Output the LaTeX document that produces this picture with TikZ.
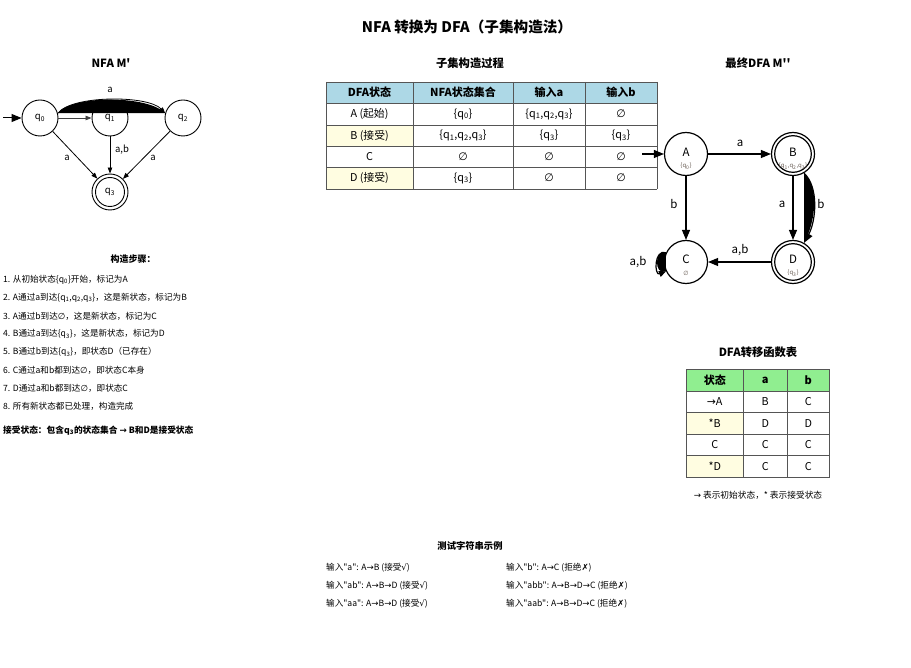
\documentclass[tikz,border=0pt]{standalone}
\usepackage{fontspec}
\setmainfont{Noto Sans CJK SC}[Ligatures=TeXOff]
\newfontfamily\symf{DejaVu Sans}
\usetikzlibrary{arrows.meta}
\newcommand{\qsb}[1]{q\textsubscript{#1}}
\newcommand{\emp}{{\symf ∅}}
\definecolor{hblue}{HTML}{ADD8E6}
\definecolor{hgreen}{HTML}{90EE90}
\definecolor{ryel}{HTML}{FFFDE1}
\definecolor{bordg}{HTML}{555555}
\definecolor{subgray}{HTML}{6A5E55}
\tikzset{
  txt/.style={inner sep=0pt, anchor=west, font=\fontsize{8.6}{10}\selectfont},
  ttl/.style={inner sep=0pt, font=\fontsize{11.3}{13}\selectfont\bfseries},
  cell/.style={inner sep=0pt, font=\fontsize{10.8}{12}\selectfont},
  hcell/.style={inner sep=0pt, font=\fontsize{11}{12}\selectfont\bfseries},
  nstate/.style={circle, draw, line width=0.9pt, minimum size=36pt, inner sep=0pt, font=\fontsize{9.5}{10}\selectfont},
  dstate/.style={circle, draw, line width=1.2pt, minimum size=43pt, inner sep=0pt},
  nedge/.style={-{Triangle[length=6pt,width=4.5pt]}, line width=0.8pt},
  dedge/.style={-{Triangle[length=10pt,width=8pt]}, line width=1.2pt},
  elab/.style={inner sep=0pt, font=\fontsize{9.5}{10}\selectfont},
  dlab/.style={inner sep=0pt, font=\fontsize{11.5}{12}\selectfont},
  sublab/.style={inner sep=0pt, font=\fontsize{6}{7}\selectfont, text=subgray},
  grid/.style={draw=bordg, line width=0.9pt},
}
\begin{document}
\begin{tikzpicture}[x=1pt,y=-1pt]
\useasboundingbox (0,0) rectangle (911,668);
\fill[white] (0,0) rectangle (911,668);

% main title
\node[inner sep=0pt, font=\fontsize{14.6}{16}\selectfont\bfseries] (title) at (467,27) {NFA 转换为 DFA（子集构造法）};

% ---------------- NFA ----------------
\node[ttl] (nfat) at (111,63) {NFA M'};
\node[nstate] (q0) at (40,118) {\qsb{0}};
\node[nstate] (q1) at (110,118) {\qsb{1}};
\node[nstate] (q2) at (183,118) {\qsb{2}};
\node[nstate] (q3) at (110,192) {\qsb{3}};
\draw[line width=0.9pt] (q3.center) circle[radius=14.5];
\coordinate (nstart) at (3,118);
\draw[-{Triangle[length=10pt,width=8pt]}, line width=1pt] (nstart) -- (q0.west);
\draw[nedge, draw=black!75] (q0.east) -- (q1.west);
\fill (q0.15) .. controls (72,95) and (148,95) .. (q2.165) -- cycle;
\draw[nedge] (q0.15) .. controls (72,95) and (148,95) .. (q2.165);
\draw[nedge] (q0) -- (q3);
\draw[nedge] (q1) -- (q3);
\draw[nedge] (q2) -- (q3);
\node[elab] (l1) at (110,90) {a};
\node[elab] (l2) at (67,158) {a};
\node[elab] (l3) at (122,150) {a,b};
\node[elab] (l4) at (153,158) {a};

% ---------------- Subset table ----------------
\node[ttl] (subt) at (470,63) {子集构造过程};
\fill[hblue] (326,82) rectangle (657,103);
\fill[ryel] (326,125) rectangle (413,146.5);
\fill[ryel] (326,167.5) rectangle (413,189);
\foreach \yy in {82,103,125,146.5,167.5,189} \draw[grid] (326,\yy) -- (657,\yy);
\foreach \xx in {326,413,513,585,657} \draw[grid] (\xx,82) -- (\xx,189);
\node[hcell] (h1) at (369.5,92.5) {DFA状态};
\node[hcell] (h2) at (463,92.5) {NFA状态集合};
\node[hcell] (h3) at (549,92.5) {输入a};
\node[hcell] (h4) at (621,92.5) {输入b};
\node[cell] (r11) at (369.5,114) {A (起始)};
\node[cell] (r12) at (463,114) {\{\qsb{0}\}};
\node[cell] (r13) at (549,114) {\{\qsb{1},\qsb{2},\qsb{3}\}};
\node[cell] (r14) at (621,114) {\emp};
\node[cell] (r21) at (369.5,135.75) {B (接受)};
\node[cell] (r22) at (463,135.75) {\{\qsb{1},\qsb{2},\qsb{3}\}};
\node[cell] (r23) at (549,135.75) {\{\qsb{3}\}};
\node[cell] (r24) at (621,135.75) {\{\qsb{3}\}};
\node[cell] (r31) at (369.5,157) {C};
\node[cell] (r32) at (463,157) {\emp};
\node[cell] (r33) at (549,157) {\emp};
\node[cell] (r34) at (621,157) {\emp};
\node[cell] (r41) at (369.5,178) {D (接受)};
\node[cell] (r42) at (463,178) {\{\qsb{3}\}};
\node[cell] (r43) at (549,178) {\emp};
\node[cell] (r44) at (621,178) {\emp};

% ---------------- DFA ----------------
\node[ttl] (dfat) at (758,63) {最终DFA M''};
\node[dstate] (A) at (686,154) {};
\node[dstate] (B) at (793,154) {};
\node[dstate] (C) at (686,262) {};
\node[dstate] (D) at (793,262) {};
\draw[line width=1.2pt] (B.center) circle[radius=18.3];
\draw[line width=1.2pt] (D.center) circle[radius=18.3];
\node[dlab] (Al) at (686,152) {A};
\node[sublab] (As) at (686,166) {\{\qsb{0}\}};
\node[dlab] (Bl) at (793,152) {B};
\node[sublab] (Bs) at (793,166) {\{\qsb{1},\qsb{2},\qsb{3}\}};
\node[dlab] (Cl) at (686,259) {C};
\node[sublab] (Cs) at (686,273) {\emp};
\node[dlab] (Dl) at (793,259) {D};
\node[sublab] (Ds) at (793,273) {\{\qsb{3}\}};
\coordinate (dstart) at (642,154);
\draw[dedge] (dstart) -- (A.west);
\draw[dedge] (A) -- (B);
\draw[dedge] (A) -- (C);
\draw[dedge] (B) -- (D);
\draw[dedge] (D) -- (C);
\fill (B.-60) .. controls +(15,14) and +(12,-22) .. (D.60) -- cycle;
\draw[dedge] (B.-60) .. controls +(15,14) and +(12,-22) .. (D.60);
\fill (C.155) .. controls +(-12,-4) and +(-12,5) .. (C.205) -- cycle;
\draw[-{Triangle[length=7pt,width=6pt]}, line width=1.2pt] (C.155) .. controls +(-12,-4) and +(-12,5) .. (C.205);
\node[dlab] (ab1) at (740,143) {a};
\node[dlab] (ab2) at (674,204) {b};
\node[dlab] (ab3) at (782,204) {a};
\node[dlab] (ab4) at (821,204) {b};
\node[dlab] (ab5) at (740,250) {a,b};
\node[dlab] (ab6) at (638,262) {a,b};

% ---------------- DFA table ----------------
\node[ttl] (tt) at (758,352) {DFA转移函数表};
\fill[hgreen] (686,369.5) rectangle (829.5,391);
\fill[ryel] (686,412.5) rectangle (743.5,434);
\fill[ryel] (686,455.5) rectangle (743.5,477);
\foreach \yy in {369.5,391,412.5,434,455.5,477} \draw[grid] (686,\yy) -- (829.5,\yy);
\foreach \xx in {686,743.5,787,829.5} \draw[grid] (\xx,369.5) -- (\xx,477);
\node[hcell] (t01) at (714.75,380.25) {状态};
\node[hcell] (t02) at (765.25,380.25) {a};
\node[hcell] (t03) at (808.25,380.25) {b};
\node[cell] (t11) at (714.75,401.75) {{\symf →}A};
\node[cell] (t12) at (765.25,401.75) {B};
\node[cell] (t13) at (808.25,401.75) {C};
\node[cell] (t21) at (714.75,423.25) {*B};
\node[cell] (t22) at (765.25,423.25) {D};
\node[cell] (t23) at (808.25,423.25) {D};
\node[cell] (t31) at (714.75,444.75) {C};
\node[cell] (t32) at (765.25,444.75) {C};
\node[cell] (t33) at (808.25,444.75) {C};
\node[cell] (t41) at (714.75,466.25) {*D};
\node[cell] (t42) at (765.25,466.25) {C};
\node[cell] (t43) at (808.25,466.25) {C};
\node[inner sep=0pt, font=\fontsize{8.7}{10}\selectfont] (foot) at (758,495) {{\symf →} 表示初始状态，* 表示接受状态};

% ---------------- Steps ----------------
\node[ttl, font=\fontsize{9}{10}\selectfont\bfseries] (stt) at (133,259) {构造步骤：};
\node[txt] (s1) at (3,279.5) {1. 从初始状态\{\qsb{0}\}开始，标记为A};
\node[txt] (s2) at (3,297.7) {2. A通过a到达\{\qsb{1},\qsb{2},\qsb{3}\}，这是新状态，标记为B};
\node[txt] (s3) at (3,316) {3. A通过b到达\emp，这是新状态，标记为C};
\node[txt] (s4) at (3,334.2) {4. B通过a到达\{\qsb{3}\}，这是新状态，标记为D};
\node[txt] (s5) at (3,352.3) {5. B通过b到达\{\qsb{3}\}，即状态D（已存在）};
\node[txt] (s6) at (3,370.3) {6. C通过a和b都到达\emp，即状态C本身};
\node[txt] (s7) at (3,388.4) {7. D通过a和b都到达\emp，即状态C};
\node[txt] (s8) at (3,406.6) {8. 所有新状态都已处理，构造完成};
\node[txt, font=\fontsize{8.7}{10}\selectfont\bfseries] (s9) at (3,430.5) {接受状态：包含\qsb{3}的状态集合 {\symf →} B和D是接受状态};

% ---------------- Test strings ----------------
\node[ttl, font=\fontsize{9.3}{10}\selectfont\bfseries] (tst) at (470,545.5) {测试字符串示例};
\node[txt] (e1) at (326,567.3) {输入"a": A{\symf →}B (接受{\symf √})};
\node[txt] (e2) at (326,585.3) {输入"ab": A{\symf →}B{\symf →}D (接受{\symf √})};
\node[txt] (e3) at (326,603.3) {输入"aa": A{\symf →}B{\symf →}D (接受{\symf √})};
\node[txt] (e4) at (506,567.3) {输入"b": A{\symf →}C (拒绝{\symf ✗})};
\node[txt] (e5) at (506,585.3) {输入"abb": A{\symf →}B{\symf →}D{\symf →}C (拒绝{\symf ✗})};
\node[txt] (e6) at (506,603.3) {输入"aab": A{\symf →}B{\symf →}D{\symf →}C (拒绝{\symf ✗})};
\end{tikzpicture}
\end{document}
